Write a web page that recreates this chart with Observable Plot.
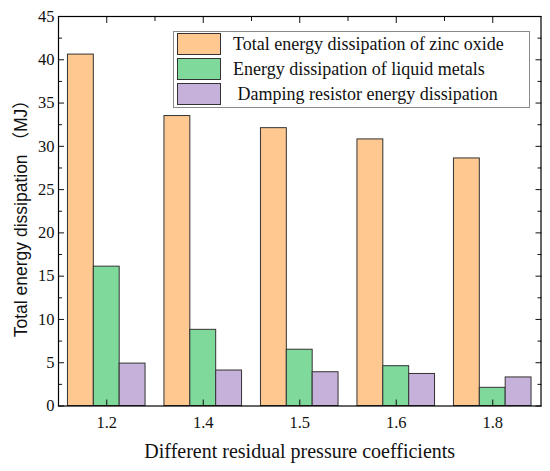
<!DOCTYPE html>
<html>
<head>
<meta charset="utf-8">
<script src="https://cdn.jsdelivr.net/npm/d3@7"></script>
<script src="https://cdn.jsdelivr.net/npm/@observablehq/plot@0.6"></script>
<style>
  html, body { margin: 0; padding: 0; background: #fff; }
  #wrap { position: relative; width: 550px; height: 471px; }
  #legend { position: absolute; left: 173px; top: 31px; width: 355px; height: 75px;
            border: 1px solid #8a8a8a; background: #fff; box-sizing: content-box; }
  .row { position: absolute; left: 3px; height: 22px; display: flex; align-items: center; }
  .sw { width: 42px; height: 20px; border: 1px solid #333; }
  .lab { position: absolute; left: 56px; white-space: pre; font-family: "Liberation Serif", serif; font-size: 18px; color: #111; }
</style>
</head>
<body>
<div id="wrap"><div id="legend"></div></div>
<script>
const categories = ["1.2", "1.4", "1.5", "1.6", "1.8"];
const seriesNames = [
  "Total energy dissipation of zinc oxide",
  "Energy dissipation of liquid metals",
  " Damping resistor energy dissipation"
];
const zincOxide = [40.6, 33.5, 32.1, 30.8, 28.6];
const liquidMetals = [16.1, 8.8, 6.5, 4.6, 2.1];
const dampingResistor = [4.9, 4.1, 3.9, 3.7, 3.3];
const colors = ["#FFC891", "#7FD99B", "#C5B1D9"];
const yMajor = d3.range(0, 46, 5);
const yMinor = d3.range(2.5, 45, 5);

const seriesValues = [zincOxide, liquidMetals, dampingResistor];
const barW = 0.268;
const table = [];
seriesValues.forEach((vals, j) => {
  vals.forEach((v, i) => {
    const c = i + (j - 1) * barW;
    table.push({cat: categories[i], series: j, value: v, x1: c - barW / 2, x2: c + barW / 2});
  });
});
const idx = d3.range(categories.length);
const between = d3.range(0.5, categories.length - 1, 1);

const font = "'Liberation Serif', 'Times New Roman', serif";
const sans = "'Liberation Sans', Arial, 'Noto Sans CJK SC', sans-serif";
const chart = Plot.plot({
  width: 550,
  height: 471,
  marginLeft: 58,
  marginRight: 9.5,
  marginTop: 16,
  marginBottom: 65.5,
  style: {fontFamily: font, fontSize: "16px", color: "#111", background: "#fff"},
  x: {domain: [-0.5, categories.length - 0.5], axis: null},
  y: {domain: [0, 45], axis: null},
  marks: [
    Plot.rectY(table, {x1: "x1", x2: "x2", y1: 0, y2: "value", fill: d => colors[d.series], stroke: "#333", strokeWidth: 1}),
    // y labels
    Plot.axisY(yMajor, {anchor: "left", tickSize: 0, tickPadding: 4, fontSize: 16.5, label: null}),
    // inward ticks left/right
    Plot.axisY(yMajor, {anchor: "left", tickSize: -6, tickFormat: () => "", label: null}),
    Plot.axisY(yMinor, {anchor: "left", tickSize: -4, tickFormat: () => "", label: null}),
    Plot.axisY(yMajor, {anchor: "right", tickSize: -6, tickFormat: () => "", label: null}),
    Plot.axisY(yMinor, {anchor: "right", tickSize: -4, tickFormat: () => "", label: null}),
    // x labels & ticks
    Plot.axisX(idx, {anchor: "bottom", tickSize: 0, tickPadding: 10, tickFormat: i => categories[i], fontSize: 16.5, label: null}),
    Plot.axisX(idx, {anchor: "bottom", tickSize: -6, tickFormat: () => "", label: null}),
    Plot.axisX(idx, {anchor: "top", tickSize: -6, tickFormat: () => "", label: null}),
    Plot.axisX(between, {anchor: "top", tickSize: -4, tickFormat: () => "", label: null}),
    Plot.frame({stroke: "#000", strokeWidth: 1.2}),
    Plot.text(["Different residual pressure coefficients"], {frameAnchor: "bottom", lineAnchor: "bottom", dy: 51.5, fontSize: 20, fill: "#111"}),
    Plot.text(["Total energy dissipation （MJ）"], {frameAnchor: "left", textAnchor: "middle", rotate: -90, dx: -37, dy: 3, fontSize: 17.5, fill: "#111"})
  ]
});
const wrap = document.getElementById("wrap");
wrap.insertBefore(chart, wrap.firstChild);
chart.querySelectorAll("g, text").forEach(t => {
  t.removeAttribute("font-family");
  t.style.fontFamily = t.textContent.startsWith("Total energy") && t.tagName === "text" ? sans : font;
});

const legend = document.getElementById("legend");
seriesNames.forEach((name, j) => {
  const row = document.createElement("div");
  row.className = "row";
  row.style.top = (1 + j * 25) + "px";
  const sw = document.createElement("div");
  sw.className = "sw";
  sw.style.background = colors[j];
  const lab = document.createElement("span");
  lab.className = "lab";
  lab.textContent = name;
  row.appendChild(sw);
  row.appendChild(lab);
  legend.appendChild(row);
});
</script>
</body>
</html>
